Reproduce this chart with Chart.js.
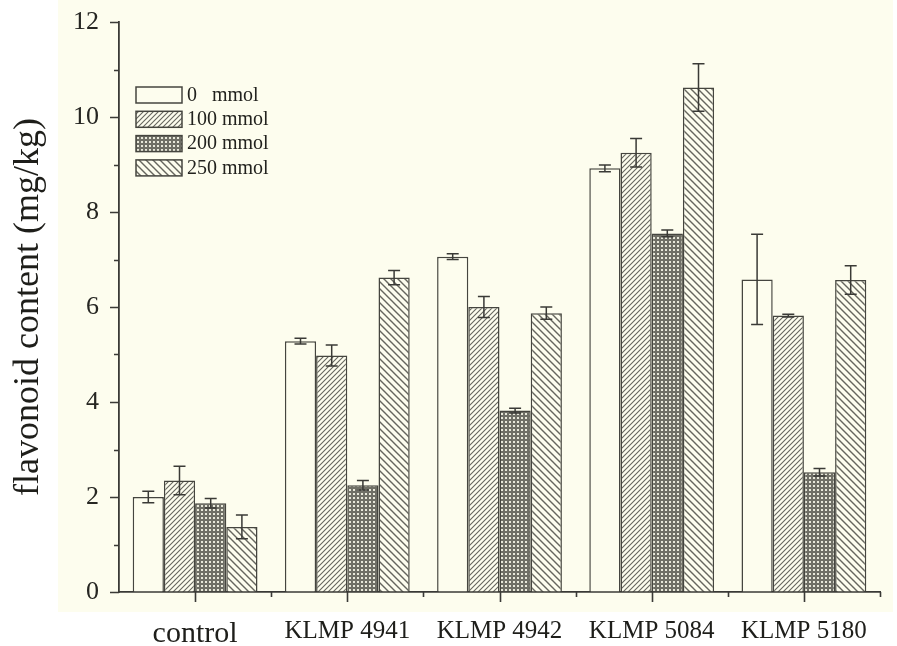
<!DOCTYPE html>
<html>
<head>
<meta charset="utf-8">
<script src="https://cdn.jsdelivr.net/npm/chart.js@4.4.1/dist/chart.umd.min.js"></script>
<style>
  html, body { margin: 0; padding: 0; background: #ffffff; }
  #wrap { width: 897px; height: 646px; }
</style>
</head>
<body>
<div id="wrap"><canvas id="myChart" width="897" height="646"></canvas></div>
<script>
const categorias = ["control", "KLMP 4941", "KLMP 4942", "KLMP 5084", "KLMP 5180"];
const tratamientos = ["0   mmol", "100 mmol", "200 mmol", "250 mmol"];

const valores0 = [2.00, 5.28, 7.06, 8.92, 6.58];
const valores100 = [2.35, 4.98, 6.00, 9.25, 5.82];
const valores200 = [1.87, 2.25, 3.82, 7.55, 2.52];
const valores250 = [1.37, 6.62, 5.87, 10.62, 6.57];

const error0 = [0.12, 0.06, 0.06, 0.07, 0.95];
const error100 = [0.30, 0.22, 0.22, 0.30, 0.03];
const error200 = [0.10, 0.10, 0.05, 0.07, 0.08];
const error250 = [0.25, 0.15, 0.13, 0.50, 0.30];

const yTicks = [0, 2, 4, 6, 8, 10, 12];

const fondo = "#fdfdee";
const tinta = "#45453f";
const fuente = "'Liberation Serif', 'Times New Roman', serif";

const ctx = document.querySelector("#myChart").getContext("2d");

// patrones de relleno
function patron(tipo) {
    const c = document.createElement("canvas");
    const s = tipo === "slash" ? 5 : tipo === "back" ? 7 : 4;
    c.width = s;
    c.height = s;
    const p = c.getContext("2d");
    p.fillStyle = fondo;
    p.fillRect(0, 0, s, s);
    p.strokeStyle = "#66665e";
    p.lineWidth = tipo === "back" ? 1.4 : 1.1;
    if (tipo === "slash") {
        p.beginPath();
        p.moveTo(-1, s + 1); p.lineTo(s + 1, -1);
        p.moveTo(-1, 1); p.lineTo(1, -1);
        p.moveTo(s - 1, s + 1); p.lineTo(s + 1, s - 1);
        p.stroke();
    } else if (tipo === "back") {
        p.beginPath();
        p.moveTo(-1, -1); p.lineTo(s + 1, s + 1);
        p.moveTo(s - 1, -1); p.lineTo(s + 1, 1);
        p.moveTo(-1, s - 1); p.lineTo(1, s + 1);
        p.stroke();
    } else if (tipo === "cross") {
        p.fillStyle = "#6f6f66";
        p.fillRect(0, 0, s, s);
        p.fillStyle = "#e8e8da";
        p.fillRect(1, 1, 2, 2);
    }
    return ctx.createPattern(c, "repeat");
}

const rellenos = [fondo, patron("slash"), patron("cross"), patron("back")];
const series = [valores0, valores100, valores200, valores250];
const errores = [error0, error100, error200, error250];

const datasets = tratamientos.map((t, i) => {
    return {
        label: t,
        data: series[i],
        backgroundColor: rellenos[i],
        borderColor: tinta,
        borderWidth: 1.5,
        borderSkipped: "bottom",
        categoryPercentage: 0.82,
        barPercentage: 1.0,
    };
});

const pluginFondo = {
    id: "fondo",
    beforeDraw: (chart) => {
        const c = chart.ctx;
        c.save();
        c.fillStyle = "#ffffff";
        c.fillRect(0, 0, chart.width, chart.height);
        c.fillStyle = fondo;
        c.fillRect(58, 0, 835, 612);
        c.restore();
    }
};

const pluginErrores = {
    id: "errores",
    afterDatasetsDraw: (chart) => {
        const c = chart.ctx;
        const y = chart.scales.y;
        c.save();
        c.strokeStyle = "#3a3a36";
        c.lineWidth = 1.5;
        chart.data.datasets.forEach((ds, i) => {
            const meta = chart.getDatasetMeta(i);
            meta.data.forEach((bar, j) => {
                const v = ds.data[j];
                const e = errores[i][j];
                const top = y.getPixelForValue(v + e);
                const bot = y.getPixelForValue(v - e);
                c.beginPath();
                c.moveTo(bar.x, top); c.lineTo(bar.x, bot);
                c.moveTo(bar.x - 6, top); c.lineTo(bar.x + 6, top);
                c.moveTo(bar.x - 6, bot); c.lineTo(bar.x + 6, bot);
                c.stroke();
            });
        });
        c.restore();
    }
};

const pluginMarcas = {
    id: "marcas",
    afterDraw: (chart) => {
        const c = chart.ctx;
        const x = chart.scales.x;
        const y = chart.scales.y;
        const area = chart.chartArea;
        c.save();
        c.strokeStyle = "#3a3a36";
        c.lineWidth = 1.6;
        c.beginPath();
        // marcas del eje y
        for (let v = 0; v <= 12; v++) {
            const py = Math.round(y.getPixelForValue(v)) + 0.5;
            const largo = v % 2 === 0 ? 9 : 5;
            c.moveTo(area.left - largo, py);
            c.lineTo(area.left, py);
        }
        // marcas del eje x
        categorias.forEach((cat, i) => {
            const px = Math.round(x.getPixelForValue(i)) + 0.5;
            c.moveTo(px, area.bottom);
            c.lineTo(px, area.bottom + 10);
            const borde = Math.round(x.getPixelForValue(i + 0.5)) + 0.5;
            c.moveTo(borde, area.bottom);
            c.lineTo(borde, area.bottom + 5);
        });
        // prolongacion del eje x a la izquierda
        c.moveTo(area.left - 9, area.bottom + 0.5);
        c.lineTo(area.left, area.bottom + 0.5);
        c.stroke();
        c.restore();
    }
};

const pluginLeyenda = {
    id: "leyendaInterna",
    afterDraw: (chart) => {
        const c = chart.ctx;
        const area = chart.chartArea;
        c.save();
        c.font = "20px " + fuente;
        c.textBaseline = "middle";
        chart.data.datasets.forEach((ds, i) => {
            const bx = area.left + 17;
            const by = area.top + 65 + i * 24.3;
            c.fillStyle = ds.backgroundColor;
            c.fillRect(bx, by, 46, 16);
            c.strokeStyle = tinta;
            c.lineWidth = 1.5;
            c.strokeRect(bx, by, 46, 16);
            c.fillStyle = "#22221e";
            c.fillText(ds.label, bx + 51, by + 8.5);
        });
        c.restore();
    }
};

const config = {
    type: "bar",
    data: {
        labels: categorias,
        datasets,
    },
    options: {
        responsive: false,
        animation: false,
        layout: {
            padding: { left: 0, right: 17, top: 22, bottom: 0 }
        },
        scales: {
            x: {
                grid: { display: true, drawOnChartArea: false, drawTicks: false },
                border: { display: true, color: "#3a3a36", width: 1.8 },
                ticks: {
                    color: "#1e1e1a",
                    padding: 24,
                    maxRotation: 0,
                    autoSkip: false,
                    font: (context) => {
                        return { family: fuente, size: context.index === 0 ? 30 : 25 };
                    }
                },
                afterFit: (scale) => {
                    scale.height = 54;
                    scale.paddingLeft = 0;
                    scale.paddingRight = 0;
                }
            },
            y: {
                min: 0,
                max: 12,
                afterBuildTicks: (scale) => {
                    scale.ticks = yTicks.map((v) => ({ value: v }));
                },
                grid: { display: true, drawOnChartArea: false, drawTicks: false },
                border: { display: true, color: "#3a3a36", width: 1.8 },
                ticks: {
                    color: "#262622",
                    padding: 20,
                    font: { family: fuente, size: 26 }
                },
                title: {
                    display: true,
                    text: "flavonoid content (mg/kg)",
                    color: "#1e1e1a",
                    font: { family: fuente, size: 36 },
                    padding: { top: 7, bottom: 0 }
                },
                afterFit: (scale) => {
                    scale.width = 119;
                    scale.paddingTop = 0;
                    scale.paddingBottom = 0;
                }
            }
        },
        plugins: {
            legend: { display: false },
            tooltip: { enabled: false }
        }
    },
    plugins: [pluginFondo, pluginErrores, pluginMarcas, pluginLeyenda]
};

new Chart(ctx, config);
</script>
</body>
</html>
